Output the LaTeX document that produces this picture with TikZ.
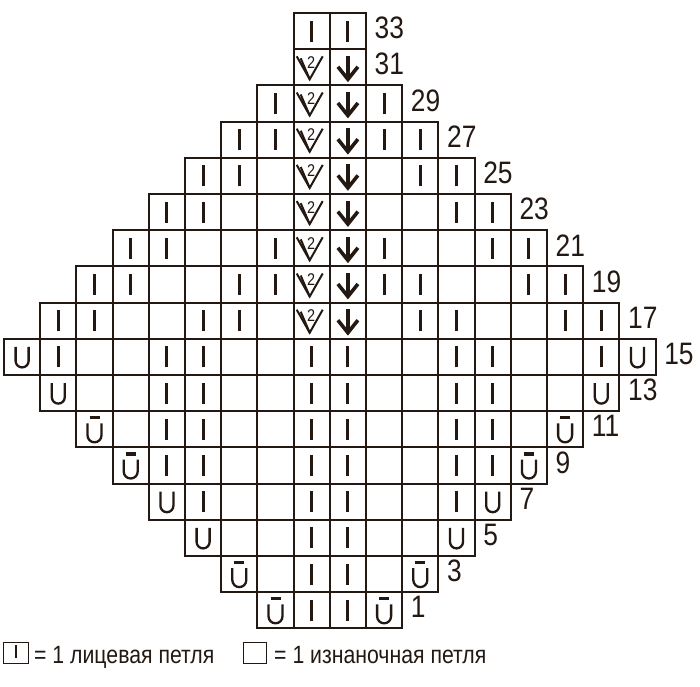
\documentclass[tikz,border=0pt]{standalone}
\usepackage{fontspec}
\setmainfont{Liberation Sans}[FakeStretch=0.85]
\usepackage{tikz}
\definecolor{ink}{RGB}{35,24,18}
\tikzstyle{cellbox} = [draw=ink, line width=1.9pt]
\tikzstyle{symline} = [draw=ink, line width=2.3pt]
\tikzstyle{rowlabel} = [anchor=west, inner sep=0pt, text=ink, font=\fontsize{31}{31}\selectfont]
\tikzstyle{legendtext} = [anchor=base west, inner sep=0pt, text=ink, font=\fontsize{25}{25}\selectfont]
\tikzset{
  knit/.pic={\draw[symline, line width=3.1pt] (0pt,-10.5pt) -- (0pt,10.5pt);},
  purl/.pic={},
  arrdown/.pic={
    \draw[symline, line width=3.5pt] (0pt,11.5pt) -- (0pt,-11pt);
    \draw[symline, line width=3.6pt, line join=miter] (-10pt,0.5pt) -- (0pt,-12pt) -- (10pt,0.5pt);
  },
  dectwo/.pic={
    \draw[symline, line width=2pt] (-15pt,11pt) -- (-2pt,-12pt) -- (11pt,11pt);
    \draw[symline, line width=2pt] (-11pt,9pt) -- (-2pt,-12pt);
    \node[inner sep=0pt, text=ink, font=\fontsize{17}{17}\selectfont] (two) at (-0.5pt,5pt) {2};
  },
  yarnover/.pic={
    \draw[symline] (-6.5pt,10pt) -- (-6.5pt,-4pt) arc[start angle=180, end angle=360, radius=6.5pt] -- (6.5pt,10pt);
  },
  yarnbar/.pic={
    \draw[symline] (-7pt,6pt) -- (-7pt,-6pt) arc[start angle=180, end angle=360, radius=7pt] -- (7pt,6pt);
    \draw[symline, line width=3.2pt] (-5pt,11.5pt) -- (5pt,11.5pt);
  }
}

\begin{document}
\begin{tikzpicture}[x=36.2pt, y=-36.2pt]
  \useasboundingbox (-4pt,13pt) rectangle (696pt,-673pt);
  % chart rows, top (33) to bottom (1)
  \foreach \r/\first/\syms in {
      0/8/{knit,knit},
      1/8/{dectwo,arrdown},
      2/7/{knit,dectwo,arrdown,knit},
      3/6/{knit,knit,dectwo,arrdown,knit,knit},
      4/5/{knit,knit,purl,dectwo,arrdown,purl,knit,knit},
      5/4/{knit,knit,purl,purl,dectwo,arrdown,purl,purl,knit,knit},
      6/3/{knit,knit,purl,purl,knit,dectwo,arrdown,knit,purl,purl,knit,knit},
      7/2/{knit,knit,purl,purl,knit,knit,dectwo,arrdown,knit,knit,purl,purl,knit,knit},
      8/1/{knit,knit,purl,purl,knit,knit,purl,dectwo,arrdown,purl,knit,knit,purl,purl,knit,knit},
      9/0/{yarnover,knit,purl,purl,knit,knit,purl,purl,knit,knit,purl,purl,knit,knit,purl,purl,knit,yarnover},
      10/1/{yarnover,purl,purl,knit,knit,purl,purl,knit,knit,purl,purl,knit,knit,purl,purl,yarnover},
      11/2/{yarnbar,purl,knit,knit,purl,purl,knit,knit,purl,purl,knit,knit,purl,yarnbar},
      12/3/{yarnbar,knit,knit,purl,purl,knit,knit,purl,purl,knit,knit,yarnbar},
      13/4/{yarnover,knit,purl,purl,knit,knit,purl,purl,knit,yarnover},
      14/5/{yarnover,purl,purl,knit,knit,purl,purl,yarnover},
      15/6/{yarnbar,purl,knit,knit,purl,yarnbar},
      16/7/{yarnbar,knit,knit,yarnbar}} {
    \foreach \s [count=\i from 0] in \syms {
      \pgfmathtruncatemacro\c{\first+\i}
      \draw[cellbox] (\c,\r) rectangle ++(1,1);
      \pic at ({\c+0.5},{\r+0.5}) {\s};
    }
    \pgfmathtruncatemacro\num{33-2*\r}
    \node[rowlabel, xshift=8.5pt, yshift=3pt] (row\num) at ({18-\first},{\r+0.5}) {\num};
  }
  % legend
  \draw[cellbox, line width=1.5pt] (-0.7pt,-629.7pt) rectangle (24.3pt,-650.3pt);
  \draw[symline, line width=2pt] (12pt,-632pt) -- (12pt,-645pt);
  \node[legendtext] (knitkey) at (30pt,-650pt) {= 1 лицевая петля};
  \draw[cellbox, line width=1.5pt] (239.3pt,-629.7pt) rectangle (262.7pt,-650.3pt);
  \node[legendtext] (purlkey) at (270pt,-650pt) {= 1 изнаночная петля};
\end{tikzpicture}
\end{document}
